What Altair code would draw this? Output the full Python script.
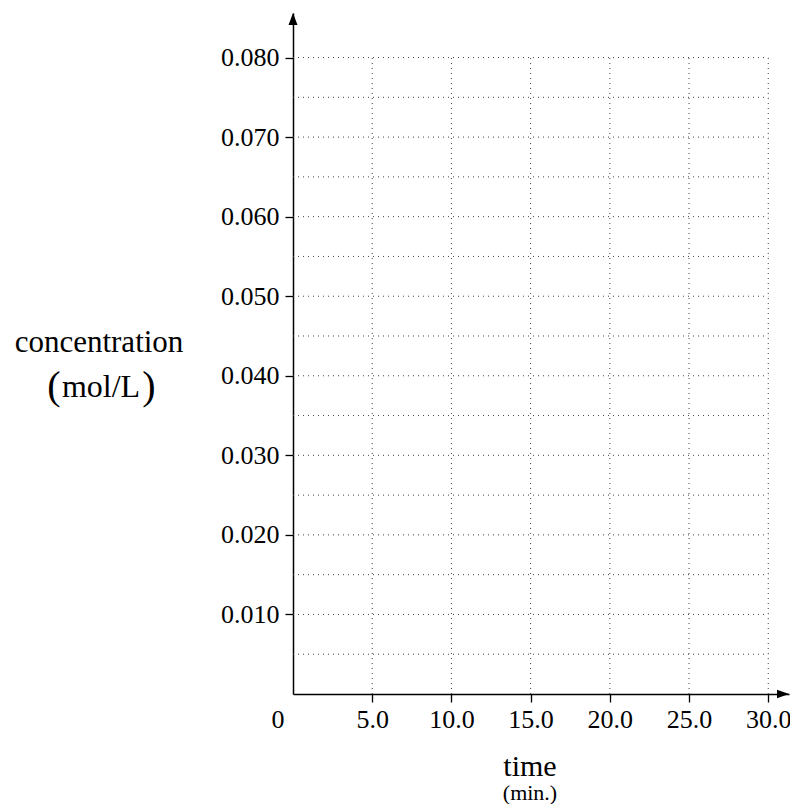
import altair as alt
import pandas as pd

# ---- data ----
x_ticks = [5.0, 10.0, 15.0, 20.0, 25.0, 30.0]
y_ticks = [0.010, 0.020, 0.030, 0.040, 0.050, 0.060, 0.070, 0.080]
y_grid = [0.005, 0.010, 0.015, 0.020, 0.025, 0.030, 0.035, 0.040,
          0.045, 0.050, 0.055, 0.060, 0.065, 0.070, 0.075, 0.080]
x_max_grid = 30.0
y_max_grid = 0.080
x_axis_end = 31.31
y_axis_end = 0.0856

FONT = "Liberation Serif"
W, H = 496, 681

xs = alt.Scale(domain=[0, x_axis_end], nice=False, zero=True)
ys = alt.Scale(domain=[0, y_axis_end], nice=False, zero=True)

vgrid_df = pd.DataFrame({"x": x_ticks, "y0": [0.0] * len(x_ticks), "y1": [y_max_grid] * len(x_ticks)})
hgrid_df = pd.DataFrame({"y": y_grid, "x0": [0.0] * len(y_grid), "x1": [x_max_grid] * len(y_grid)})

grid_style = dict(color="#444444", strokeDash=[1, 4], strokeWidth=1)

vgrid = alt.Chart(vgrid_df).mark_rule(**grid_style).encode(
    x=alt.X("x:Q", scale=xs, axis=alt.Axis(
        values=x_ticks, format=".1f", title=None, grid=False,
        labelFont=FONT, labelFontSize=26, labelColor="black",
        labelBaseline="alphabetic", labelPadding=25, labelFlush=False,
        tickSize=8, tickColor="black", tickWidth=1.3,
        domainColor="black", domainWidth=1.5)),
    y=alt.Y("y0:Q", scale=ys, axis=alt.Axis(
        values=y_ticks, format=".3f", title=None, grid=False,
        labelFont=FONT, labelFontSize=26, labelColor="black",
        labelPadding=6, labelFlush=False,
        tickSize=8, tickColor="black", tickWidth=1.3,
        domainColor="black", domainWidth=1.5)),
    y2="y1:Q",
)

hgrid = alt.Chart(hgrid_df).mark_rule(**grid_style).encode(
    y=alt.Y("y:Q", scale=ys),
    x=alt.X("x0:Q", scale=xs),
    x2="x1:Q",
)

up_df = pd.DataFrame({"x": [0.0], "y": [y_axis_end]})
right_df = pd.DataFrame({"x": [x_axis_end], "y": [0.0]})

arrow_up = alt.Chart(up_df).mark_point(
    shape="M0,0L-0.75,2L0.75,2Z", size=144, filled=True, color="black",
    opacity=1, strokeWidth=0).encode(
    x=alt.X("x:Q", scale=xs), y=alt.Y("y:Q", scale=ys))

arrow_right = alt.Chart(right_df).mark_point(
    shape="M0,0L-2,-0.7L-2,0.7Z", size=144, filled=True, color="black",
    opacity=1, strokeWidth=0).encode(
    x=alt.X("x:Q", scale=xs), y=alt.Y("y:Q", scale=ys))


def label(text, x, y, size, align="center"):
    return alt.Chart(pd.DataFrame({"t": [text]})).mark_text(
        font=FONT, fontSize=size, color="black", align=align,
        baseline="alphabetic").encode(
        text="t:N", x=alt.value(x), y=alt.value(y))


texts = [
    label("0", -15, 715, 26),
    label("concentration", -194, 339, 31),
    label("mol/L", -192, 384, 32),
    label("(", -239, 386, 40),
    label(")", -144, 386, 40),
    label("time", 237, 763, 30),
    label("(min.)", 237, 787, 22),
]

chart = alt.layer(vgrid, hgrid, arrow_up, arrow_right, *texts).properties(
    width=W, height=H,
    autosize=alt.AutoSizeParams(type="none"),
    padding={"left": 285, "top": 5, "right": 1, "bottom": 110},
).configure(background="white").configure_view(stroke=None, strokeWidth=0)

chart.save("out.html", embed_options={"renderer": "svg", "actions": False})
